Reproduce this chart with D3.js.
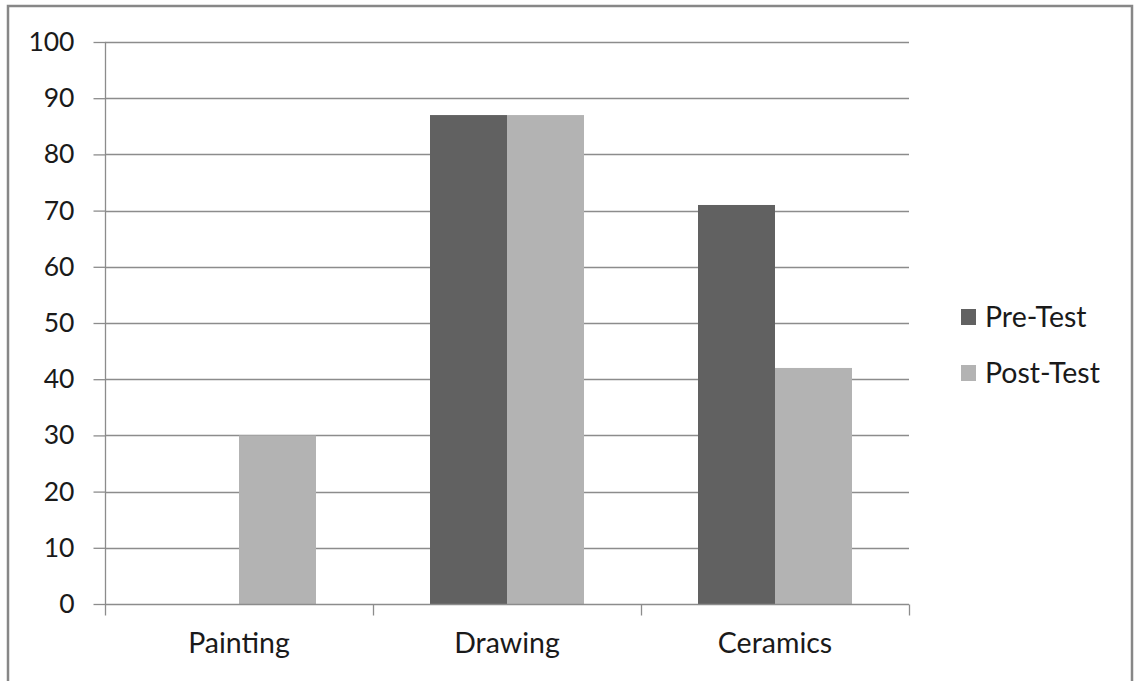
<!DOCTYPE html>
<html><head><meta charset="utf-8">
<script src="https://cdn.jsdelivr.net/npm/d3@7"></script>
<style>
html,body{margin:0;padding:0;background:#fff;}
svg text{font-family:Lato,"Open Sans",sans-serif;fill:#1a1a1a;}
</style></head>
<body><svg id="c" width="1136" height="681"></svg>
<script>
const categories = ["Painting","Drawing","Ceramics"];
const seriesNames = ["Pre-Test","Post-Test"];
const preTest = [0, 87, 71];
const postTest = [30, 87, 42];
const yTicks = [0,10,20,30,40,50,60,70,80,90,100];
const colors = ["#616161","#b3b3b3"];

const svg = d3.select("#c");
// outer frame
svg.append("rect").attr("x",8).attr("y",6).attr("width",1124).attr("height",700)
  .attr("fill","none").attr("stroke","#878787").attr("stroke-width",2.5);

const L=105, R=909, T=42, B=604;
const x = d3.scaleBand().domain(categories).range([L,R]).paddingInner(0).paddingOuter(0);
const y = d3.scaleLinear().domain([0,100]).range([B,T]);
const groupPad = 57;
const xs = d3.scaleBand().domain(seriesNames).range([groupPad, x.bandwidth()-groupPad]);

// gridlines
svg.append("g").selectAll("line").data(yTicks.filter(d=>d>0)).join("line")
  .attr("x1",L).attr("x2",R).attr("y1",d=>Math.round(y(d))+0.5).attr("y2",d=>Math.round(y(d))+0.5)
  .attr("stroke","#8c8c8c").attr("stroke-width",1.3);

// bars
const data = categories.map((c,i)=>({c, vals:[preTest[i],postTest[i]]}));
const g = svg.append("g");
data.forEach(d=>{
  d.vals.forEach((v,j)=>{
    if(v<=0) return;
    g.append("rect").attr("x",x(d.c)+xs(seriesNames[j])).attr("width",xs.bandwidth())
      .attr("y",y(v)).attr("height",y(0)-y(v)).attr("fill",colors[j]);
  });
});

// y axis
const yAx = svg.append("g").attr("transform",`translate(${L+0.5},0)`)
  .call(d3.axisLeft(y).tickValues(yTicks).tickSize(12).tickPadding(19));
yAx.select(".domain").attr("stroke","#8c8c8c").attr("stroke-width",1.3).attr("d",`M0,${T}V${B}`);
yAx.selectAll(".tick line").attr("stroke","#8c8c8c").attr("stroke-width",1.3);
yAx.selectAll(".tick text").attr("font-size",26.5).attr("fill","#1a1a1a").style("font-family","Lato");

// x axis
const xAx = svg.append("g").attr("transform",`translate(0,${Math.round(B)+0.5})`)
  .call(d3.axisBottom(x).tickSize(0).tickPadding(30));
xAx.select(".domain").attr("stroke","#8c8c8c").attr("stroke-width",1.3).attr("d",`M${L},0H${R}`);
xAx.selectAll(".tick text").attr("font-size",28.5).attr("fill","#1a1a1a").attr("dy","0.66em").style("font-family","Lato");
// category boundary ticks
const bounds = categories.map(c=>x(c)).concat([R]);
xAx.append("g").selectAll("line").data(bounds).join("line")
  .attr("x1",d=>Math.round(d)+0.5).attr("x2",d=>Math.round(d)+0.5).attr("y1",0).attr("y2",11)
  .attr("stroke","#8c8c8c").attr("stroke-width",1.3);

// legend
const leg = svg.append("g");
seriesNames.forEach((s,i)=>{
  const cy = 317 + i*56;
  leg.append("rect").attr("x",961).attr("y",cy-8).attr("width",15).attr("height",16).attr("fill",colors[i]);
  leg.append("text").attr("x",985).attr("y",cy).attr("dy","0.36em").attr("font-size",28.5).text(s);
});
</script></body></html>
